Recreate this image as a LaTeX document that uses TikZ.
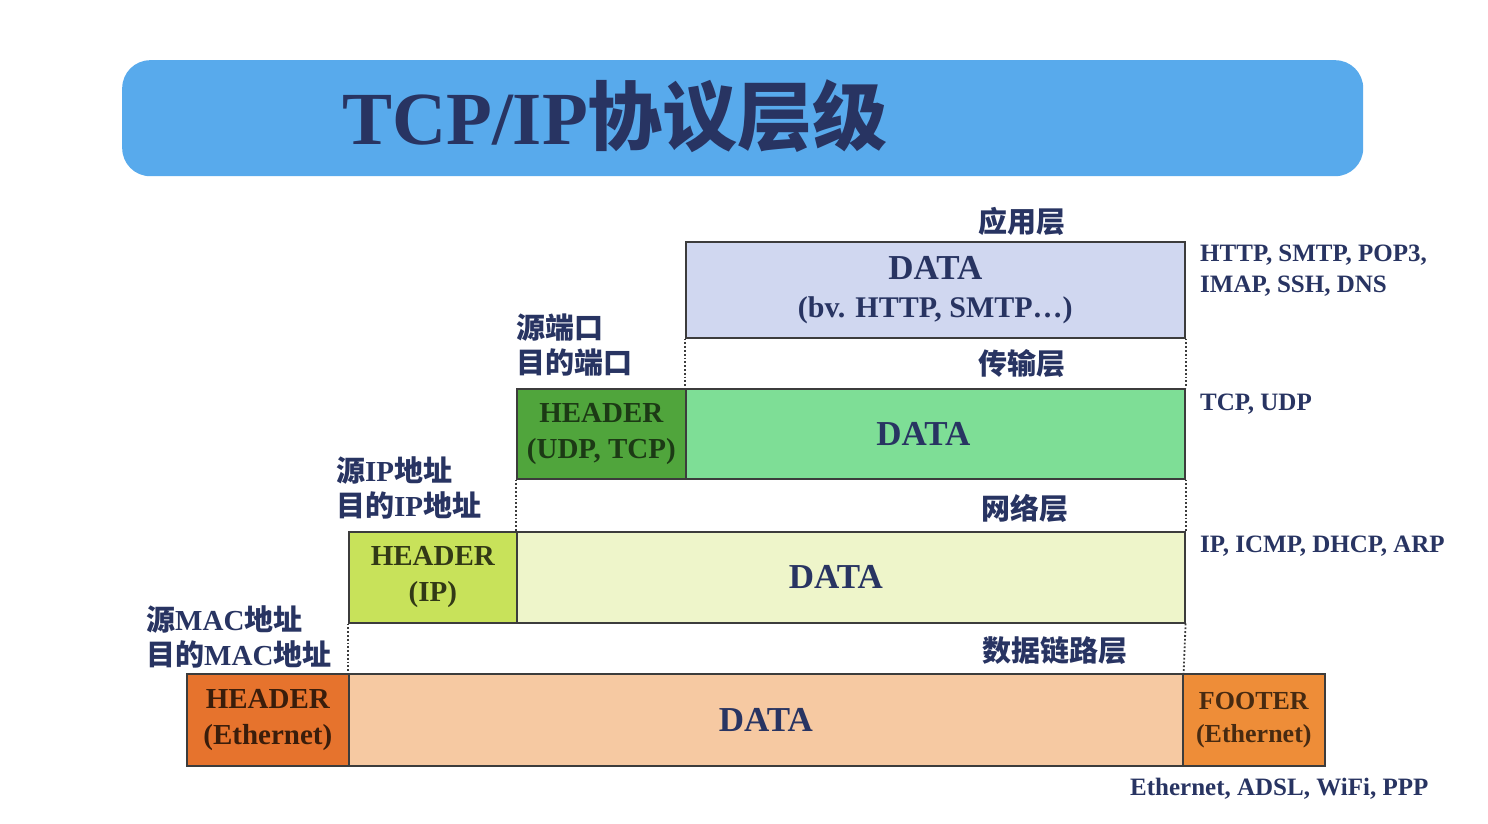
\documentclass[tikz,border=0pt]{standalone}
\usepackage{fontspec}
\setmainfont{Liberation Serif}
\newfontfamily\cjk{Noto Sans CJK SC}
\newcommand{\zh}[1]{{\cjk #1}}
\definecolor{ink}{RGB}{40,52,98}
\definecolor{titlefill}{RGB}{88,170,236}
\definecolor{boxline}{RGB}{60,60,60}
\definecolor{appfill}{RGB}{208,215,240}
\definecolor{tphfill}{RGB}{80,165,60}
\definecolor{tpdfill}{RGB}{126,222,150}
\definecolor{nwhfill}{RGB}{200,226,90}
\definecolor{nwdfill}{RGB}{238,245,202}
\definecolor{lkhfill}{RGB}{230,115,45}
\definecolor{lkdfill}{RGB}{246,201,162}
\definecolor{ftfill}{RGB}{238,141,56}

\begin{document}
\begin{tikzpicture}[x=1pt,y=-1pt,
  box/.style={draw=boxline,line width=1.6pt,inner sep=0pt,anchor=north west,
    align=center,text=ink,font=\bfseries\fontsize{35}{38}\selectfont},
  hdr/.style={box,font=\bfseries\fontsize{29}{36}\selectfont},
  layer/.style={inner sep=0pt,text=ink,font=\bfseries\cjk\fontsize{29}{34}\selectfont},
  addr/.style={inner sep=0pt,anchor=west,align=left,text=ink,font=\bfseries\fontsize{29}{35}\selectfont},
  proto/.style={inner sep=0pt,anchor=west,align=left,text=ink,font=\bfseries\fontsize{25}{31}\selectfont},
  guide/.style={draw=boxline,line width=1.8pt,dotted}]
\useasboundingbox (0,0) rectangle (1488,824);
\fill[white] (0,0) rectangle (1488,824);
\node[fill=titlefill,rounded corners=28pt,minimum width=1241pt,minimum height=116pt,anchor=north west,inner sep=0pt] (banner) at (122,60) {};
\node[inner sep=0pt,text=ink,font=\bfseries\fontsize{75}{80}\selectfont] (title) at (615,116) {TCP/IP\zh{协议层级}};
\node[box,fill=appfill,minimum width=499pt,minimum height=96pt,font=\bfseries\fontsize{30}{38}\selectfont] (appdata) at (685,241) {{\fontsize{35}{38}\selectfont DATA}\\(bv. HTTP, SMTP\ldots)};
\node[layer] (applbl) at (1022,221) {应用层};
\node[hdr,fill=tphfill,minimum width=169pt,minimum height=90pt,text=tphfill!35!black] (tphead) at (516,388) {HEADER\\(UDP, TCP)};
\node[box,fill=tpdfill,minimum width=499pt,minimum height=90pt] (tpdata) at (685,388) {DATA\hspace*{24pt}};
\node[layer] (tplbl) at (1022,364) {传输层};
\node[addr] (tpaddr) at (516,345) {\zh{源端口}\\\zh{目的端口}};
\node[hdr,fill=nwhfill,minimum width=168pt,minimum height=91pt,text=nwhfill!25!black] (nwhead) at (348,531) {HEADER\\(IP)};
\node[box,fill=nwdfill,minimum width=668pt,minimum height=91pt] (nwdata) at (516,531) {DATA\hspace*{30pt}};
\node[layer] (nwlbl) at (1025,508) {网络层};
\node[addr] (nwaddr) at (336,488) {\zh{源}IP\zh{地址}\\\zh{目的}IP\zh{地址}};
\node[hdr,fill=lkhfill,minimum width=162pt,minimum height=92pt,text=lkhfill!25!black] (lkhead) at (186,673) {HEADER\\(Ethernet)};
\node[box,fill=lkdfill,minimum width=834pt,minimum height=92pt] (lkdata) at (348,673) {DATA};
\node[hdr,fill=ftfill,minimum width=142pt,minimum height=92pt,text=ftfill!30!black,font=\bfseries\fontsize{26}{33}\selectfont] (lkfoot) at (1182,673) {FOOTER\\(Ethernet)};
\node[layer] (lklbl) at (1055,651) {数据链路层};
\node[addr] (lkaddr) at (146,637) {\zh{源}MAC\zh{地址}\\\zh{目的}MAC\zh{地址}};
\draw[guide] (appdata.south west) -- (tpdata.north west);
\draw[guide] (appdata.south east) -- (tpdata.north east);
\draw[guide] (tphead.south west) -- (nwdata.north west);
\draw[guide] (tpdata.south east) -- (nwdata.north east);
\draw[guide] (nwhead.south west) -- (lkdata.north west);
\draw[guide] (nwdata.south east) -- (lkdata.north east);
\node[proto] (appproto) at (1200,271) {HTTP, SMTP, POP3,\\IMAP, SSH, DNS};
\node[proto] (tpproto) at (1200,404) {TCP, UDP};
\node[proto] (nwproto) at (1200,546) {IP, ICMP, DHCP, ARP};
\node[proto] (lkproto) at (1130,789) {Ethernet, ADSL, WiFi, PPP};
\end{tikzpicture}
\end{document}
